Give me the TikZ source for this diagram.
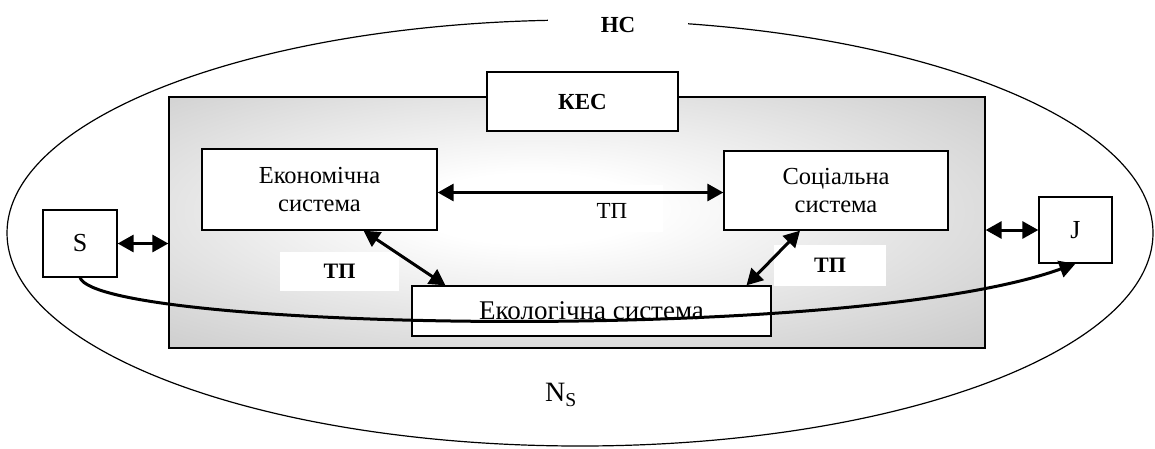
\documentclass[tikz,border=0pt]{standalone}
\usepackage{fontspec}
\setmainfont{Liberation Serif}
\usetikzlibrary{arrows.meta, shapes.geometric}
\pgfdeclareradialshading{kesglow}{\pgfpoint{-3bp}{3bp}}{color(0bp)=(white); color(7bp)=(white); color(44bp)=(gray!50); color(90bp)=(gray!50)}

\begin{document}
\begin{tikzpicture}[x=1pt, y=-1pt,
    font=\fontsize{24.5}{28}\selectfont,
    box/.style={draw, line width=1.3pt, fill=white, align=center, inner sep=0pt},
    tag/.style={fill=white, inner sep=0pt},
    link/.style={line width=3pt, {Triangle[length=16pt,width=17pt]}-{Triangle[length=16pt,width=17pt]}}]
  \useasboundingbox (0,0) rectangle (1155,448);

  \node (ns) [ellipse, draw, line width=1.2pt, inner sep=0pt,
              minimum width=1146pt, minimum height=426pt] at (580,233) {};
  \node (hc) [tag, font=\fontsize{23}{28}\selectfont\bfseries,
              minimum width=140pt, minimum height=26pt] at (618,25) {НС};

  \node (kes) [draw, line width=1.3pt, shading=kesglow, inner sep=0pt,
               minimum width=816pt, minimum height=251pt] at (577,222.5) {};
  \node (kec) [box, font=\fontsize{23}{28}\selectfont\bfseries,
               minimum width=191pt, minimum height=59pt] at (582.5,101.5) {КЕС};

  \node (econ) [box, minimum width=235pt, minimum height=81pt] at (319.5,189.5)
               {Економічна\\система};
  \node (soc)  [box, minimum width=224pt, minimum height=79pt] at (836,190.5)
               {Соціальна\\система};
  \node (eco)  [box, font=\fontsize{27}{30}\selectfont,
                minimum width=359pt, minimum height=50pt] at (591.5,311)
               {Екологічна система};

  \node (s) [box, font=\fontsize{26}{30}\selectfont,
             minimum width=74pt, minimum height=67pt] at (80,243.5) {S};
  \node (j) [box, font=\fontsize{26}{30}\selectfont,
             minimum width=73pt, minimum height=66pt] at (1075.5,230) {J};

  \node (tpmid)   [tag, minimum width=105pt, minimum height=47pt] at (610.5,208.5) {};
  \node           [inner sep=0pt, font=\fontsize{23}{28}\selectfont] at (612,211) {ТП};
  \node (tpleft)  [tag, font=\fontsize{22}{26}\selectfont\bfseries,
                   minimum width=119pt, minimum height=39pt] at (339.5,271.5) {ТП};
  \node (tpright) [tag, font=\fontsize{22}{26}\selectfont\bfseries,
                   minimum width=112pt, minimum height=41pt] at (830,265.5) {ТП};

  \node (nlabel) [font=\fontsize{28}{32}\selectfont] at (561,395) {N\textsubscript{S}};

  \draw [link] ([yshift=-3pt]econ.east) -- ([yshift=-2pt]soc.west);
  \draw [link] ([xshift=44pt]econ.south) -- ([xshift=-146pt]eco.north);
  \draw [link] ([xshift=-36pt]soc.south) -- ([xshift=155pt]eco.north);
  \draw [link] (s.east) -- (s.east -| kes.west);
  \draw [link] (kes.east |- j.west) -- (j.west);

  \draw [line width=3pt, -{Triangle[length=16pt,width=17pt]}]
    (s.south) .. controls (100,330) and (850,345) .. (j.south);
\end{tikzpicture}
\end{document}
